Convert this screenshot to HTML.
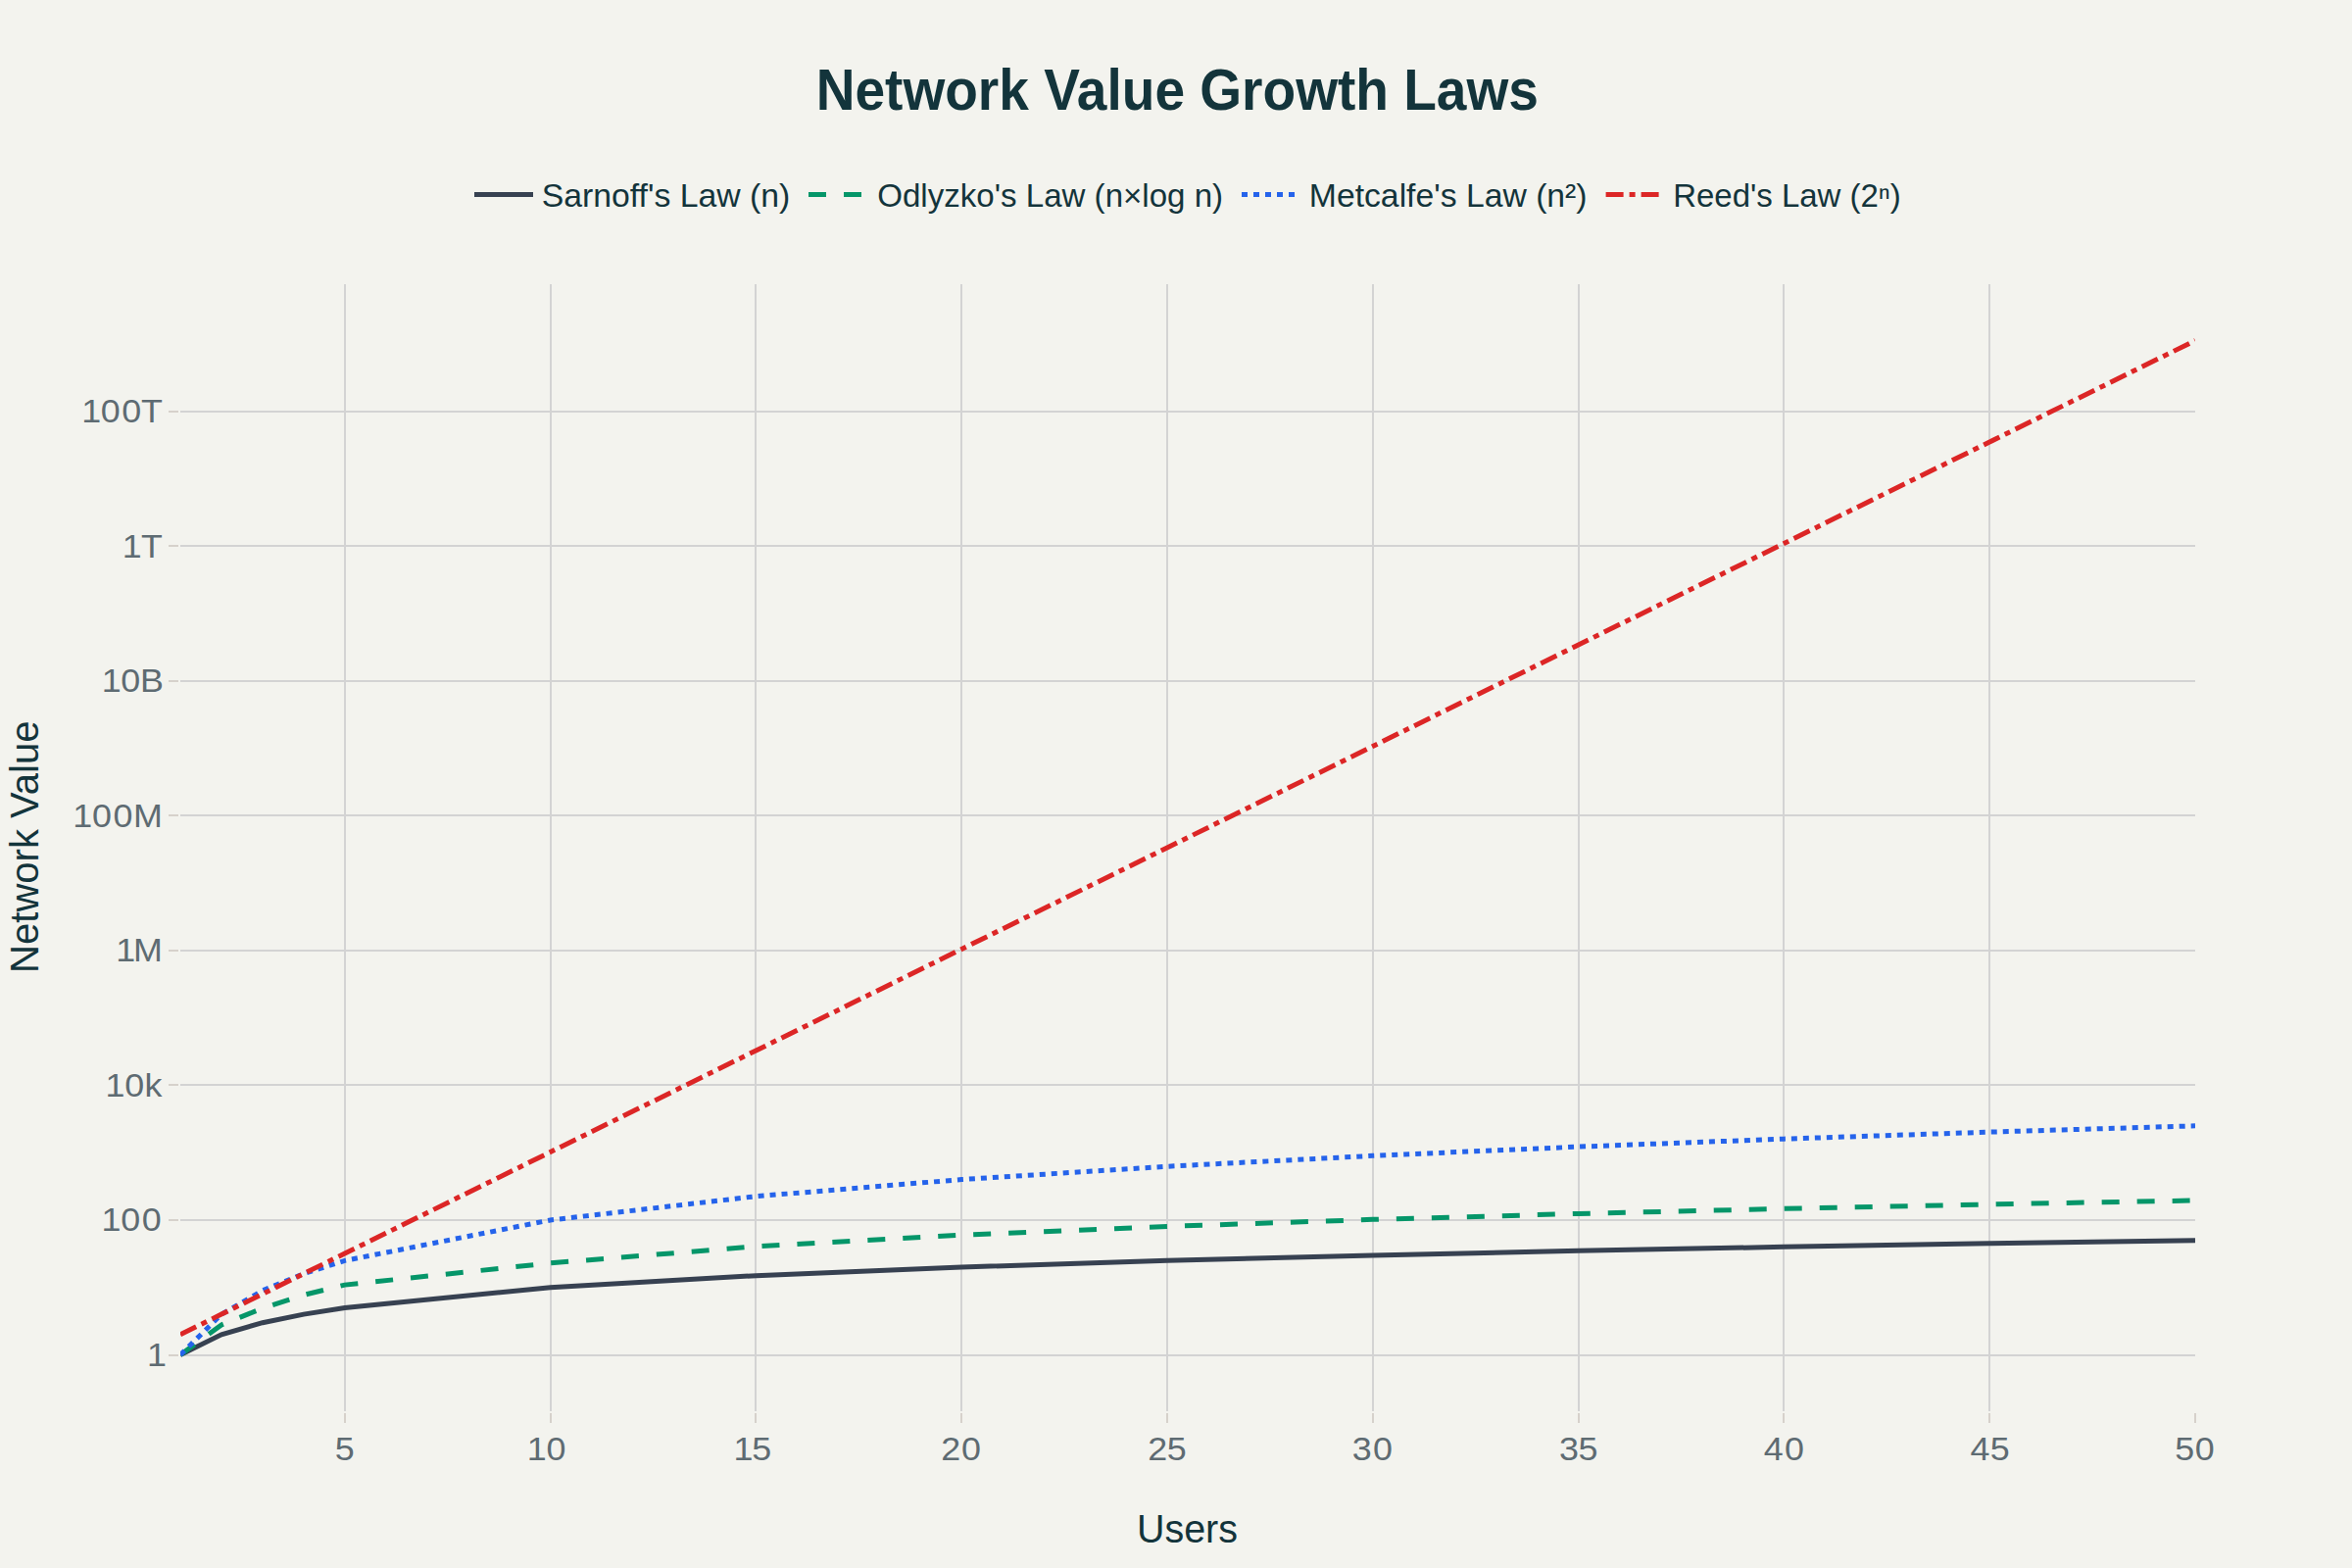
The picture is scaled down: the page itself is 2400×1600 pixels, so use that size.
<!DOCTYPE html>
<html lang="en"><head><meta charset="utf-8"><title>Network Value Growth Laws</title>
<style>html,body{margin:0;padding:0;background:#F3F3EE;}body{width:2400px;height:1600px;overflow:hidden;}svg{display:block;}text{font-family:'Liberation Sans',Arial,sans-serif;white-space:pre;}</style></head><body>
<svg width="2400" height="1600" viewBox="0 0 2400 1600">
<rect width="2400" height="1600" fill="#F3F3EE"/>
<defs><clipPath id="plotclip"><rect x="184" y="290" width="2056" height="1150"/></clipPath></defs>
<g stroke="#D3D3D3" stroke-width="2" fill="none" shape-rendering="crispEdges">
<path d="M351.84,290 V1440"/>
<path d="M561.63,290 V1440"/>
<path d="M771.43,290 V1440"/>
<path d="M981.22,290 V1440"/>
<path d="M1191.02,290 V1440"/>
<path d="M1400.82,290 V1440"/>
<path d="M1610.61,290 V1440"/>
<path d="M1820.41,290 V1440"/>
<path d="M2030.20,290 V1440"/>
<path d="M184,1382.50 H2240"/>
<path d="M184,1244.97 H2240"/>
<path d="M184,1107.44 H2240"/>
<path d="M184,969.92 H2240"/>
<path d="M184,832.39 H2240"/>
<path d="M184,694.86 H2240"/>
<path d="M184,557.33 H2240"/>
<path d="M184,419.81 H2240"/>
</g>
<g stroke="#D6D1CB" stroke-width="2" fill="none" shape-rendering="crispEdges">
<path d="M351.84,1442 V1452"/>
<path d="M561.63,1442 V1452"/>
<path d="M771.43,1442 V1452"/>
<path d="M981.22,1442 V1452"/>
<path d="M1191.02,1442 V1452"/>
<path d="M1400.82,1442 V1452"/>
<path d="M1610.61,1442 V1452"/>
<path d="M1820.41,1442 V1452"/>
<path d="M2030.20,1442 V1452"/>
<path d="M2240.00,1442 V1452"/>
<path d="M172,1382.50 H182"/>
<path d="M172,1244.97 H182"/>
<path d="M172,1107.44 H182"/>
<path d="M172,969.92 H182"/>
<path d="M172,832.39 H182"/>
<path d="M172,694.86 H182"/>
<path d="M172,557.33 H182"/>
<path d="M172,419.81 H182"/>
</g>
<g clip-path="url(#plotclip)" fill="none" stroke-width="5" stroke-miterlimit="2">
<path d="M184.00,1382.50 L225.96,1361.80 L267.92,1349.69 L309.88,1341.10 L351.84,1334.44 L561.63,1313.74 L771.43,1301.63 L981.22,1293.04 L1191.02,1286.37 L1400.82,1280.93 L1610.61,1276.32 L1820.41,1272.34 L2030.20,1268.82 L2240.00,1265.67" stroke="#374151"/>
<path d="M184.00,1382.50 L225.96,1351.90 L267.92,1334.96 L309.88,1321.40 L351.84,1311.11 L561.63,1288.83 L771.43,1271.88 L981.22,1260.27 L1191.02,1251.46 L1400.82,1244.37 L1610.61,1238.44 L1820.41,1233.35 L2030.20,1228.90 L2240.00,1224.94" stroke="#059669" stroke-dasharray="18,18"/>
<path d="M184.00,1382.50 L225.96,1341.10 L267.92,1316.88 L309.88,1299.70 L351.84,1286.37 L561.63,1244.97 L771.43,1220.75 L981.22,1203.57 L1191.02,1190.24 L1400.82,1179.35 L1610.61,1170.15 L1820.41,1162.17 L2030.20,1155.14 L2240.00,1148.84" stroke="#2563EB" stroke-dasharray="6,6"/>
<path d="M184.00,1361.80 L225.96,1341.10 L267.92,1320.40 L309.88,1299.70 L351.84,1279.00 L561.63,1175.50 L771.43,1072.00 L981.22,968.50 L1191.02,865.00 L1400.82,761.50 L1610.61,658.00 L1820.41,554.50 L2030.20,451.00 L2240.00,347.50" stroke="#DC2626" stroke-dasharray="18,6,6,6"/>
</g>
<g>
<text id="yl0" transform="translate(0.00,1393.80) scale(1.1000,1)" x="136.26" y="0" text-anchor="start" font-size="32.6" fill="#5E6B72">1</text>
<text id="yl1" transform="translate(0.00,1256.27) scale(1.1000,1)" x="94.01 112.03 131.71" y="0" text-anchor="start" font-size="32.6" fill="#5E6B72">100</text>
<text id="yl2" transform="translate(0.00,1118.74) scale(1.1000,1)" x="97.64 115.62 134.05" y="0" text-anchor="start" font-size="32.6" fill="#5E6B72">10k</text>
<text id="yl3" transform="translate(0.00,981.22) scale(1.1000,1)" x="107.55 123.74" y="0" text-anchor="start" font-size="32.6" fill="#5E6B72">1M</text>
<text id="yl4" transform="translate(0.00,843.69) scale(1.1000,1)" x="67.55 85.39 104.98 123.74" y="0" text-anchor="start" font-size="32.6" fill="#5E6B72">100M</text>
<text id="yl5" transform="translate(0.00,706.16) scale(1.1000,1)" x="94.28 112.16 129.92" y="0" text-anchor="start" font-size="32.6" fill="#5E6B72">10B</text>
<text id="yl6" transform="translate(0.00,568.63) scale(1.0959,1)" x="113.77 131.40" y="0" text-anchor="start" font-size="32.6" fill="#5E6B72">1T</text>
<text id="yl7" transform="translate(0.00,431.11) scale(1.1000,1)" x="75.64 93.43 112.93 130.87" y="0" text-anchor="start" font-size="32.6" fill="#5E6B72">100T</text>
<text id="xl0" transform="translate(0.00,1490.00) scale(1.1000,1)" x="310.60" y="0" text-anchor="start" font-size="32.6" fill="#5E6B72">5</text>
<text id="xl1" transform="translate(0.00,1490.00) scale(1.1000,1)" x="488.82 506.84" y="0" text-anchor="start" font-size="32.6" fill="#5E6B72">10</text>
<text id="xl2" transform="translate(0.00,1490.00) scale(1.1000,1)" x="680.37 697.51" y="0" text-anchor="start" font-size="32.6" fill="#5E6B72">15</text>
<text id="xl3" transform="translate(0.00,1490.00) scale(1.1000,1)" x="873.07 891.89" y="0" text-anchor="start" font-size="32.6" fill="#5E6B72">20</text>
<text id="xl4" transform="translate(0.00,1490.00) scale(1.1000,1)" x="1064.71 1082.47" y="0" text-anchor="start" font-size="32.6" fill="#5E6B72">25</text>
<text id="xl5" transform="translate(0.00,1490.00) scale(1.1000,1)" x="1254.44 1273.71" y="0" text-anchor="start" font-size="32.6" fill="#5E6B72">30</text>
<text id="xl6" transform="translate(0.00,1490.00) scale(1.0999,1)" x="1446.43 1464.27" y="0" text-anchor="start" font-size="32.6" fill="#5E6B72">35</text>
<text id="xl7" transform="translate(0.00,1490.00) scale(1.1000,1)" x="1636.17 1655.53" y="0" text-anchor="start" font-size="32.6" fill="#5E6B72">40</text>
<text id="xl8" transform="translate(0.00,1490.00) scale(1.1000,1)" x="1827.77 1846.10" y="0" text-anchor="start" font-size="32.6" fill="#5E6B72">45</text>
<text id="xl9" transform="translate(0.00,1490.00) scale(1.1000,1)" x="2017.56 2036.25" y="0" text-anchor="start" font-size="32.6" fill="#5E6B72">50</text>
</g>
<text id="title" transform="translate(1201.30,112.40) scale(0.9253,1)" x="0.00" y="0" text-anchor="middle" font-size="59.5" fill="#13343B" font-weight="bold">Network Value Growth Laws</text>
<text id="xt" transform="translate(1211.45,1574.10) scale(0.9696,1)" x="0.00" y="0" text-anchor="middle" font-size="40.7" fill="#13343B">Users</text>
<text id="yt" transform="translate(38.80,864.20) rotate(-90) scale(0.9844,1)" x="0.00" y="0" text-anchor="middle" font-size="40.7" fill="#13343B">Network Value</text>
<path d="M484,198.4 H544" stroke="#374151" stroke-width="5" fill="none"/>
<text id="lg0" transform="translate(552.70,211.00) scale(1.0238,1)" x="0.00" y="0" text-anchor="start" font-size="33" fill="#13343B">Sarnoff's Law (n)</text>
<path d="M825,198.4 H885" stroke="#059669" stroke-width="5" fill="none" stroke-dasharray="18,18"/>
<text id="lg1" transform="translate(895.20,211.00) scale(1.0029,1)" x="0.00" y="0" text-anchor="start" font-size="33" fill="#13343B">Odlyzko's Law (n×log n)</text>
<path d="M1267,198.4 H1327" stroke="#2563EB" stroke-width="5" fill="none" stroke-dasharray="6,6"/>
<text id="lg2" transform="translate(1335.80,211.00) scale(1.0220,1)" x="0.00" y="0" text-anchor="start" font-size="33" fill="#13343B">Metcalfe's Law (n²)</text>
<path d="M1638.6,198.4 H1698.6" stroke="#DC2626" stroke-width="5" fill="none" stroke-dasharray="18,6,6,6"/>
<text id="lg3" transform="translate(1707.20,211.00) scale(0.9991,1)" x="0.00" y="0" text-anchor="start" font-size="33" fill="#13343B">Reed's Law (2ⁿ)</text>
</svg></body></html>
